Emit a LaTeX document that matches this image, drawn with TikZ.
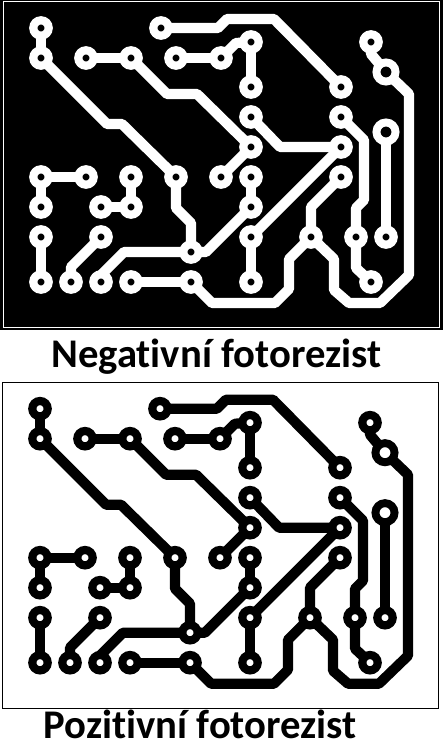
\documentclass[tikz,border=0pt]{standalone}
\usepackage{fontspec}
\setmainfont{Carlito}[Ligatures=NoCommon]
\pgfdeclarelayer{panel}
\pgfdeclarelayer{copper}
\pgfsetlayers{panel,copper,main}
\tikzset{
  x=1pt,y=-1pt,
  pad/.style={circle,draw=trk,fill=hole,line width=8.2pt,minimum size=15.4pt,inner sep=0pt,outer sep=0pt},
  bigpad/.style={circle,draw=trk,fill=hole,line width=7.9pt,minimum size=19.1pt,inner sep=0pt,outer sep=0pt},
  track/.style={draw=trk,line width=10.2pt,line join=round},
  frameline/.style={draw=#1,line width=1pt},
  caption/.style={font=\bfseries\fontsize{40.7}{40.7}\selectfont,text=black,inner sep=0pt,anchor=base west},
}
\newcommand{\boardpads}{%
  \node[pad] (a1) at (41,28) {};
  \node[pad] (a2) at (41,58) {};
  \node[pad] (b1) at (86,58) {};
  \node[pad] (b2) at (131,58) {};
  \node[pad] (c1) at (161,28) {};
  \node[pad] (d1) at (176,58) {};
  \node[pad] (d2) at (221,58) {};
  \node[pad] (e1) at (251,42) {};
  \node[pad] (e2) at (251,87) {};
  \node[pad] (f1) at (251,117) {};
  \node[pad] (f2) at (251,147) {};
  \node[pad] (f3) at (251,177) {};
  \node[pad] (f4) at (251,207) {};
  \node[pad] (f5) at (251,237) {};
  \node[pad] (f6) at (251,282) {};
  \node[pad] (g1) at (341,87) {};
  \node[pad] (g2) at (341,117) {};
  \node[pad] (g3) at (341,147) {};
  \node[pad] (g4) at (341,177) {};
  \node[pad] (h1) at (371,42) {};
  \node[bigpad] (h2) at (386,72) {};
  \node[bigpad] (h3) at (386,132) {};
  \node[pad] (h4) at (386,237) {};
  \node[pad] (h5) at (356,237) {};
  \node[pad] (h6) at (371,282) {};
  \node[pad] (h7) at (311,237) {};
  \node[pad] (i1) at (41,177) {};
  \node[pad] (i2) at (86,177) {};
  \node[pad] (i3) at (41,207) {};
  \node[pad] (j1) at (131,177) {};
  \node[pad] (j2) at (131,207) {};
  \node[pad] (j3) at (101,207) {};
  \node[pad] (k1) at (176,177) {};
  \node[pad] (k2) at (221,177) {};
  \node[pad] (l1) at (41,237) {};
  \node[pad] (l2) at (41,282) {};
  \node[pad] (l3) at (101,237) {};
  \node[pad] (l4) at (71,282) {};
  \node[pad] (l5) at (101,282) {};
  \node[pad] (l6) at (131,282) {};
  \node[pad] (m1) at (191,252) {};
  \node[pad] (m2) at (191,282) {};
  \begin{pgfonlayer}{copper}
    \draw[track] (a1) -- (a2);
    \draw[track] (a2) -- (107,124) -- (122,124) -- (k1);
    \draw[track] (b1) -- (b2);
    \draw[track] (b2) -- (167,94) -- (197,94) -- (f2);
    \draw[track] (d1) -- (d2);
    \draw[track] (d2) -- (236,43) -- (e1);
    \draw[track] (c1) -- (218,28) -- (227,19) -- (274,19) -- (g1);
    \draw[track] (e1) -- (e2);
    \draw[track] (f1) -- (280,147) -- (g3);
    \draw[track] (g3) -- (f5);
    \draw[track] (f2) -- (k2);
    \draw[track] (f3) -- (f4);
    \draw[track] (f4) -- (206,252) -- (m1);
    \draw[track] (k1) -- (176,208) -- (191,223) -- (m1);
    \draw[track] (m1) -- (124,252) -- (101,275) -- (l5);
    \draw[track] (l3) -- (71,267) -- (l4);
    \draw[track] (l1) -- (l2);
    \draw[track] (i1) -- (i2);
    \draw[track] (i1) -- (i3);
    \draw[track] (j1) -- (j2);
    \draw[track] (j3) -- (j2);
    \draw[track] (l6) -- (m2);
    \draw[track] (m2) -- (212,303) -- (275,303) -- (289,289) -- (289,259) -- (h7);
    \draw[track] (h7) -- (334,259) -- (334,290) -- (349,303) -- (380,303) -- (409,275) -- (409,94) -- (h2);
    \draw[track] (h1) -- (371,54) -- (h2);
    \draw[track] (g2) -- (364,140) -- (364,200) -- (356,208) -- (h5);
    \draw[track] (h5) -- (356,268) -- (h6);
    \draw[track] (h3) -- (h4);
    \draw[track] (g4) -- (311,207) -- (h7);
    \draw[track] (f5) -- (f6);
  \end{pgfonlayer}
}
\begin{document}
\begin{tikzpicture}
  \useasboundingbox (0,0) rectangle (447,743);
  \begin{pgfonlayer}{panel}
    \fill[white] (0,0) rectangle (447,743);
    \fill[black] (0,0) rectangle (443,330);
    \draw[frameline=white] (3.5,1.5) rectangle (439.5,327);
    \draw[frameline=black] (2.5,382) rectangle (438.5,708);
  \end{pgfonlayer}
  \begin{scope}
    \colorlet{trk}{white}\colorlet{hole}{black}
    \boardpads
  \end{scope}
  \begin{scope}[shift={(-1,380.7)},name prefix=n-]
    \colorlet{trk}{black}\colorlet{hole}{white}
    \boardpads
  \end{scope}
  \node[caption] (top) at (51,367) {Negativní fotorezist};
  \node[caption] (bottom) at (43.5,738) {Pozitivní fotorezist};
\end{tikzpicture}
\end{document}
